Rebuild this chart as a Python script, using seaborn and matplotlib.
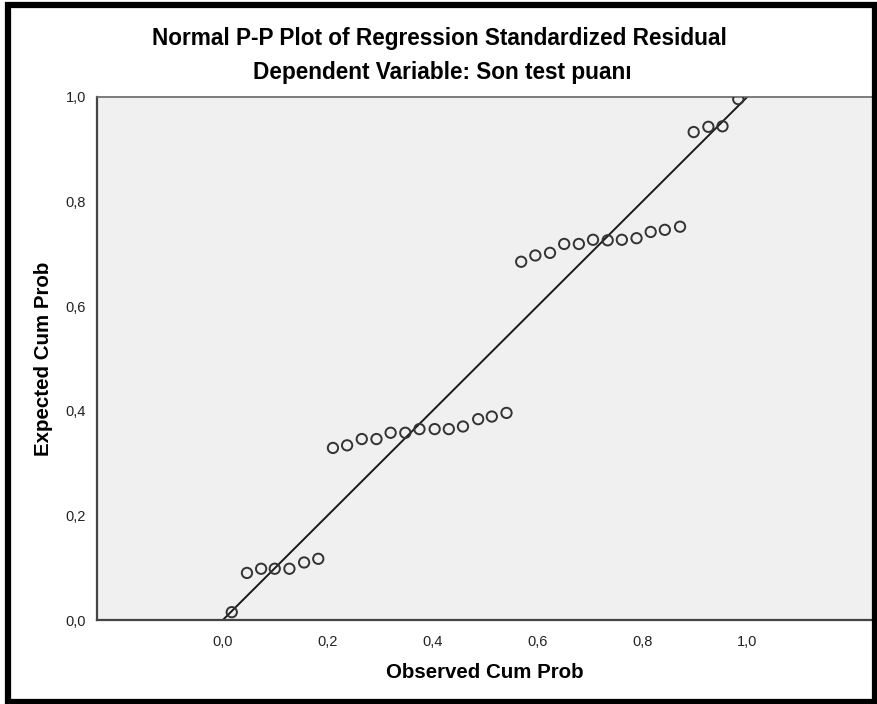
import matplotlib
matplotlib.use("Agg")
import matplotlib.pyplot as plt
import seaborn as sns
import pandas as pd
from matplotlib.patches import Rectangle

# observed vs expected cumulative probabilities
observed = [0.017, 0.046, 0.073, 0.099, 0.127, 0.155, 0.182,
            0.210, 0.237, 0.265, 0.293, 0.320, 0.348, 0.375, 0.404, 0.431, 0.458, 0.487, 0.513, 0.541,
            0.569, 0.596, 0.624, 0.651, 0.679, 0.706, 0.734, 0.761, 0.789, 0.816, 0.843, 0.872,
            0.898, 0.926, 0.953, 0.983]
expected = [0.015, 0.090, 0.098, 0.098, 0.098, 0.110, 0.117,
            0.329, 0.334, 0.346, 0.346, 0.358, 0.358, 0.365, 0.365, 0.365, 0.370, 0.384, 0.389, 0.396,
            0.685, 0.697, 0.702, 0.719, 0.719, 0.727, 0.726, 0.727, 0.730, 0.742, 0.746, 0.752,
            0.933, 0.943, 0.944, 0.996]
ref_line = [0.0, 1.0]
ticks = [0.0, 0.2, 0.4, 0.6, 0.8, 1.0]
tick_labels = ["0,0", "0,2", "0,4", "0,6", "0,8", "1,0"]

df = pd.DataFrame({"obs": observed, "exp": expected})

sns.set_style("white")
plt.rcParams['font.family'] = ['Liberation Sans', 'DejaVu Sans']

fig = plt.figure(figsize=(8.78, 7.04), dpi=100)
ax = fig.add_axes([97 / 878, 1 - 620 / 704, 776 / 878, 523 / 704])
ax.set_facecolor("#f0f0f0")

ax.plot(ref_line, ref_line, color="#1a1a1a", lw=1.4, zorder=2)
sns.scatterplot(data=df, x="obs", y="exp", ax=ax, marker="o", s=55,
                facecolor="none", edgecolor="#333333", linewidth=1.4, zorder=3)

ax.set_xlim(-0.24, 1.24)
ax.set_ylim(0, 1)
ax.set_xticks(ticks)
ax.set_xticklabels(tick_labels)
ax.set_yticks(ticks)
ax.set_yticklabels(tick_labels)
ax.tick_params(axis="both", direction="out", length=5, width=1.2, color="#333333",
               labelsize=10.5, labelcolor="#222222", pad=3)
ax.tick_params(axis="x", pad=6)
ax.set_xlabel("Observed Cum Prob", fontsize=14.8, fontweight="bold", labelpad=10, color="black")
ax.set_ylabel("Expected Cum Prob", fontsize=14.8, fontweight="bold", labelpad=9, color="black")

for side in ["left", "bottom"]:
    ax.spines[side].set_color("#444444")
    ax.spines[side].set_linewidth(1.6)
for side in ["top", "right"]:
    ax.spines[side].set_color("#666666")
    ax.spines[side].set_linewidth(1.2)

fig.text(439 / 878, 1 - 38 / 704, "Normal P-P Plot of Regression Standardized Residual",
         ha="center", va="center", fontsize=16.3, fontweight="bold", color="black")
fig.text(442 / 878, 1 - 73 / 704, "Dependent Variable: Son test puanı",
         ha="center", va="center", fontsize=16.3, fontweight="bold", color="black")

# black frame around the whole picture
fig.patches.append(Rectangle((8 / 878, 2 / 704), 867 / 878, 697 / 704, transform=fig.transFigure,
                             fill=False, edgecolor="black", linewidth=4.5))

fig.savefig("out.png", dpi=100)
